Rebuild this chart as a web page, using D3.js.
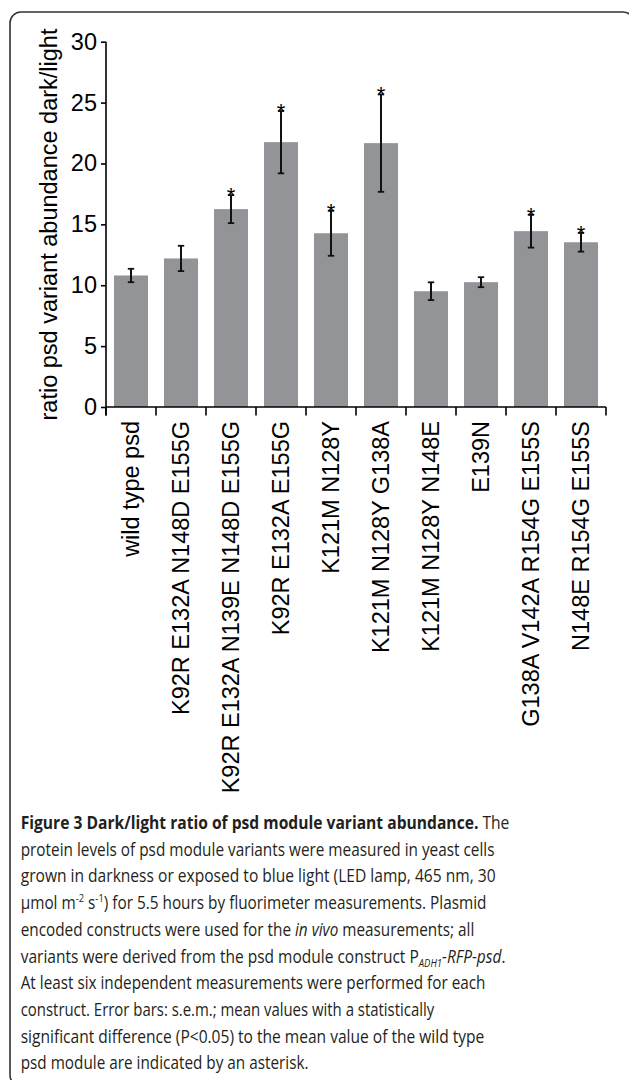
<!DOCTYPE html>
<html>
<head>
<meta charset="utf-8">
<script src="https://cdn.jsdelivr.net/npm/d3@7/dist/d3.min.js"></script>
<style>
  html, body { margin: 0; padding: 0; background: #fff; }
  svg { display: block; }
  .chart text { font-family: "Liberation Sans", Arial, sans-serif; fill: #000; }
  .cap text { font-family: "Open Sans", "Noto Sans", sans-serif; fill: #231f20; }
</style>
</head>
<body>
<svg id="fig" width="629" height="1080"></svg>
<script>
// ---- data ----
const categories = [
  "wild type psd",
  "K92R E132A N148D E155G",
  "K92R E132A N139E N148D E155G",
  "K92R E132A E155G",
  "K121M N128Y",
  "K121M N128Y G138A",
  "K121M N128Y N148E",
  "E139N",
  "G138A V142A R154G E155S",
  "N148E R154G E155S"
];
const means = [10.8, 12.2, 16.25, 21.75, 14.27, 21.67, 9.51, 10.25, 14.44, 13.53];
const sems  = [0.55, 1.04, 1.15, 2.56, 1.85, 4.0, 0.73, 0.41, 1.35, 0.77];
const significant = [false, false, true, true, true, true, false, false, true, true];
const yTicks = [0, 5, 10, 15, 20, 25, 30];
const yLabel = "ratio psd variant abundance dark/light";

const data = categories.map((c, i) => ({ cat: c, mean: means[i], sem: sems[i], sig: significant[i] }));

const svg = d3.select("#fig");

// frame
svg.append("rect")
  .attr("x", 10).attr("y", 12)
  .attr("width", 624).attr("height", 1074)
  .attr("rx", 11).attr("ry", 11)
  .attr("fill", "none").attr("stroke", "#333").attr("stroke-width", 1.6);

const g = svg.append("g").attr("class", "chart");

const x = d3.scaleBand().domain(categories).range([106, 606]).paddingInner(0.32).paddingOuter(0.16);
const y = d3.scaleLinear().domain([0, 30]).range([407, 41.7]);

// bars
g.selectAll("rect.bar").data(data).join("rect")
  .attr("class", "bar")
  .attr("x", d => x(d.cat))
  .attr("width", x.bandwidth())
  .attr("y", d => y(d.mean))
  .attr("height", d => y(0) - y(d.mean))
  .attr("fill", "#929497");

// error bars
const eb = g.selectAll("g.err").data(data).join("g").attr("class", "err")
  .attr("transform", d => `translate(${x(d.cat) + x.bandwidth() / 2},0)`);
eb.append("line").attr("x1", 0).attr("x2", 0)
  .attr("y1", d => y(d.mean + d.sem)).attr("y2", d => y(d.mean - d.sem))
  .attr("stroke", "#111").attr("stroke-width", 2);
eb.append("line").attr("x1", -3.2).attr("x2", 3.2)
  .attr("y1", d => y(d.mean + d.sem)).attr("y2", d => y(d.mean + d.sem))
  .attr("stroke", "#111").attr("stroke-width", 1.8);
eb.append("line").attr("x1", -3.2).attr("x2", 3.2)
  .attr("y1", d => y(d.mean - d.sem)).attr("y2", d => y(d.mean - d.sem))
  .attr("stroke", "#111").attr("stroke-width", 1.8);
eb.filter(d => d.sig).append("text")
  .attr("x", 0).attr("y", d => y(d.mean + d.sem) + 8)
  .attr("text-anchor", "middle")
  .style("font-size", "22px")
  .text("*");

// y axis
const yAxis = d3.axisLeft(y).tickValues(yTicks).tickSize(5).tickPadding(4).tickFormat(d3.format("d"));
const ya = g.append("g").attr("transform", "translate(106,0)").call(yAxis);
ya.select(".domain").remove();
ya.selectAll(".tick line").attr("stroke", "#000").attr("stroke-width", 1.6);
ya.selectAll(".tick text").style("font-size", "23.5px").style("font-family", "'Liberation Sans', Arial, sans-serif").attr("fill", "#000");
g.append("line").attr("x1", 106).attr("x2", 106).attr("y1", y(30)).attr("y2", y(0) + 8.5)
  .attr("stroke", "#000").attr("stroke-width", 1.6);

// x axis
const step = x.step();
const bounds = d3.range(categories.length + 1).map(i => x.range()[0] + i * step);
g.append("line").attr("x1", x.range()[0]).attr("x2", x.range()[1]).attr("y1", y(0)).attr("y2", y(0))
  .attr("stroke", "#000").attr("stroke-width", 1.6);
g.selectAll("line.xt").data(bounds).join("line").attr("class", "xt")
  .attr("x1", d => d).attr("x2", d => d).attr("y1", y(0)).attr("y2", y(0) + 8.5)
  .attr("stroke", "#000").attr("stroke-width", 1.6);
g.selectAll("text.xl").data(categories).join("text").attr("class", "xl")
  .attr("transform", d => `translate(${x(d) + x.bandwidth() / 2},421) rotate(-90)`)
  .attr("text-anchor", "end")
  .attr("dy", "0.36em")
  .style("font-size", "23.5px")
  .text(d => d);

// y label
g.append("text")
  .attr("transform", "translate(56.5,224.5) rotate(-90)")
  .attr("text-anchor", "middle")
  .style("font-size", "23.5px")
  .text(yLabel);

// ---- caption ----
const captionLines = [
  [{t: "Figure 3 Dark/light ratio of psd module variant abundance.", b: 1}, {t: " The"}],
  [{t: "protein levels of psd module variants were measured in yeast cells"}],
  [{t: "grown in darkness or exposed to blue light (LED lamp, 465 nm, 30"}],
  [{t: "\u00b5mol m"}, {t: "-2", sup: 1}, {t: " s"}, {t: "-1", sup: 1}, {t: ") for 5.5 hours by fluorimeter measurements. Plasmid"}],
  [{t: "encoded constructs were used for the "}, {t: "in vivo", i: 1}, {t: " measurements; all"}],
  [{t: "variants were derived from the psd module construct P"}, {t: "ADH1", sub: 1, i: 1}, {t: "-RFP-psd", i: 1}, {t: "."}],
  [{t: "At least six independent measurements were performed for each"}],
  [{t: "construct. Error bars: s.e.m.; mean values with a statistically"}],
  [{t: "significant difference (P<0.05) to the mean value of the wild type"}],
  [{t: "psd module are indicated by an asterisk."}]
];
const captionWidths = [489, 474, 475, 466, 454, 485, 465, 414, 464, 288];

const cap = svg.append("g").attr("class", "cap");
captionLines.forEach((parts, li) => {
  const lg = cap.append("g");
  const tx = lg.append("text").attr("x", 0).attr("y", 0).style("font-size", "18px");
  parts.forEach(p => {
    const ts = tx.append("tspan").text(p.t);
    if (p.b) ts.style("font-weight", "bold").attr("fill", "#231f20");
    if (p.i) ts.style("font-style", "italic");
    if (p.sup) ts.style("font-size", "11px").attr("dy", -7);
    if (p.sub) ts.style("font-size", "11px").attr("dy", 4);
  });
  // reset baseline shifts
  let shift = 0;
  tx.selectAll("tspan").each(function (d, k) {
    const p = parts[k];
    const want = p.sup ? -7 : (p.sub ? 4 : 0);
    d3.select(this).attr("dy", want - shift);
    shift = want;
  });
  const natural = tx.node().getComputedTextLength();
  const sx = captionWidths[li] / natural;
  lg.attr("transform", `translate(20.7,${829 + li * 26.7}) scale(${sx},1)`);
});
</script>
</body>
</html>
